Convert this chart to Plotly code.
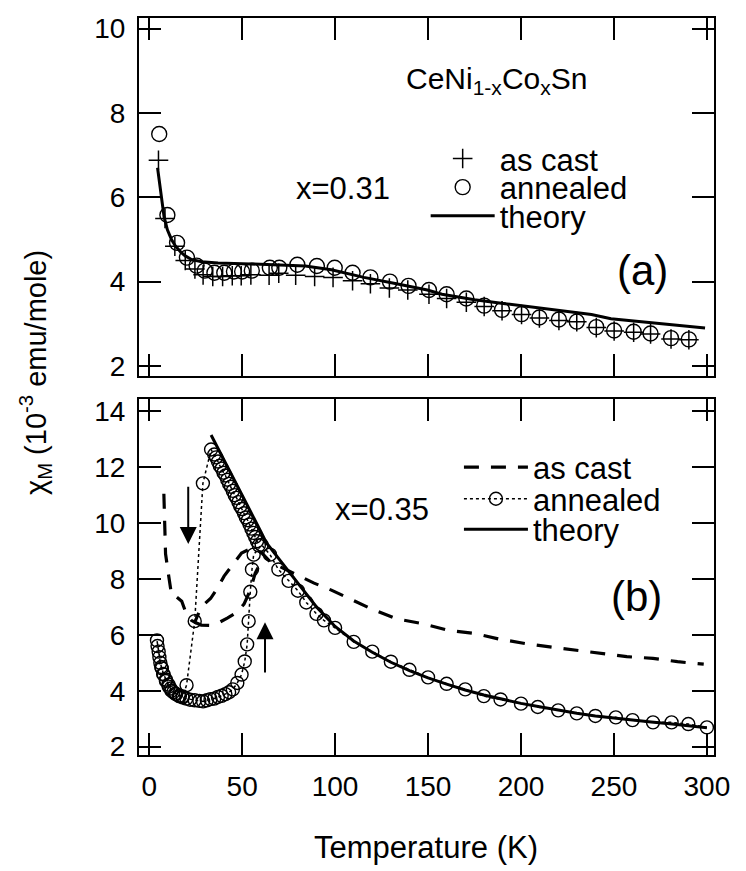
import plotly.graph_objects as go

# ---------------- Panel (a): x = 0.31 ----------------
a_cast_T = [5, 8.5, 13.8, 19.4, 24.6, 29, 34.2, 39.5, 44.7, 49.5, 54.7, 64.5, 69.7, 78.8, 89, 98.9,
            109.4, 119, 129.2, 139.1, 150.5, 160, 170.6, 180.2, 189.8, 200.3, 209.9, 220.4, 230,
            240.5, 250.1, 260.6, 269.7, 280.7, 290.3]
a_cast_v = [6.88, 5.5, 4.84, 4.5, 4.3, 4.16, 4.12, 4.12, 4.14, 4.14, 4.16, 4.15, 4.2, 4.15, 4.12, 4.1,
            4.02, 3.95, 3.85, 3.8, 3.7, 3.6, 3.51, 3.41, 3.31, 3.22, 3.14, 3.08, 3.05,
            2.91, 2.83, 2.8, 2.76, 2.64, 2.62]

a_ann_T = [5.4, 9.8, 15, 20.3, 25.5, 29.9, 35.1, 40.4, 45.6, 50, 55.2, 64.9, 70, 79.7, 90.2, 99.8,
           109.4, 119, 129.5, 139.5, 150.5, 160, 170.6, 180.2, 189.8, 200.3, 209.9, 220.4, 230,
           240.5, 250.1, 260.6, 269.7, 280.7, 290.3]
a_ann_v = [7.5, 5.58, 4.92, 4.57, 4.38, 4.26, 4.21, 4.21, 4.24, 4.24, 4.26, 4.33, 4.33, 4.4, 4.37, 4.33,
           4.21, 4.1, 4.0, 3.9, 3.8, 3.7, 3.6, 3.43, 3.33, 3.23, 3.15, 3.1, 3.05,
           2.92, 2.84, 2.81, 2.77, 2.66, 2.63]

a_th_T = [4.5, 6.5, 8, 9.8, 12, 14.2, 17, 19.4, 23, 28.2, 37, 54.4, 71.8, 84, 98, 115.5, 133,
          149.6, 157.5, 175, 192.5, 210, 227.4, 237.9, 248.4, 262.4, 279.8, 299]
a_th_v = [6.7, 6.05, 5.54, 5.23, 5.0, 4.84, 4.7, 4.61, 4.52, 4.47, 4.44, 4.42, 4.4, 4.37, 4.28, 4.1, 3.95,
          3.8, 3.7, 3.57, 3.47, 3.37, 3.28, 3.22, 3.12, 3.06, 2.98, 2.9]

# ---------------- Panel (b): x = 0.35 ----------------
b_cast_T = [7.9, 8.2, 8.5, 8.8, 10.3, 12.1, 14.8, 17.5, 20, 22.7, 24.5, 28, 33, 36.5, 40.3, 45, 49.7,
            53.5, 57, 61, 65, 70, 76.4, 83, 88.7, 98, 106.3, 113, 119.5, 132.8, 146.9, 161, 175,
            188.2, 202.3, 215.5, 229.6, 243.7, 256.9, 271, 284.2, 298.3]
b_cast_v = [11.05, 10.5, 9.9, 8.9, 8.2, 7.4, 7.35, 7.2, 6.75, 6.52, 6.45, 7.0, 7.3, 7.65, 8.1, 8.5, 8.93,
            9.05, 9.08, 8.9, 8.62, 8.45, 8.25, 8.05, 7.85, 7.6, 7.34, 7.15, 6.93, 6.58, 6.4, 6.16, 6.05,
            5.85, 5.69, 5.57, 5.46, 5.34, 5.22, 5.16, 5.04, 4.95]
b_cast2_T = [24.5, 28, 33, 37, 42, 47, 51, 54.4, 57, 60, 63]
b_cast2_v = [6.45, 6.35, 6.34, 6.42, 6.6, 6.8, 7.1, 7.6, 8.2, 8.6, 8.75]

b_ann_T = [300, 290, 281, 271, 260, 251, 240, 230, 220, 209, 200, 189, 180, 170, 160, 150, 140, 130,
           120, 110, 100, 94, 90, 84.5, 80, 75, 69.5, 65, 60.5, 56.2, 55.3, 54.4, 53.5, 52.7, 51.4,
           49.7, 47.4, 45, 43, 41, 39, 37, 35, 33, 31, 29, 27, 24.5, 22, 20, 18, 16.5, 14.5, 13,
           11.5, 10.4, 9, 7.8, 6.8, 6, 5.1, 4.2,
           4.5, 5.5, 6.5, 7.5, 9, 10.5, 12, 14, 16, 18, 20.1, 24.5, 28.9, 33.3,
           35, 36, 37, 38, 39, 40, 41, 42, 43, 44, 45, 46, 47, 48, 49, 50, 51, 52, 53, 54, 55, 56,
           57, 58, 59]
b_ann_v = [2.69, 2.81, 2.87, 2.87, 2.95, 3.05, 3.1, 3.19, 3.3, 3.42, 3.54, 3.69, 3.81, 4.05, 4.25,
           4.48, 4.75, 5.04, 5.4, 5.75, 6.25, 6.52, 6.75, 7.16, 7.58, 7.93, 8.34, 8.87, 9.22, 8.87,
           8.34, 7.54, 6.49, 5.66, 5.05, 4.58, 4.28, 4.05, 3.95, 3.88, 3.82, 3.78, 3.72, 3.7, 3.66,
           3.62, 3.64, 3.66, 3.68, 3.72, 3.76, 3.8, 3.88, 3.95, 4.08, 4.22, 4.4, 4.58, 4.8, 5.0,
           5.4, 5.8,
           5.6, 5.2, 4.85, 4.6, 4.35, 4.15, 4.0, 3.9, 3.82, 3.8, 4.2, 6.49, 11.42, 12.63,
           12.45, 12.35, 12.2, 12.05, 11.95, 11.8, 11.7, 11.55, 11.4, 11.3, 11.15, 11.0, 10.9,
           10.75, 10.6, 10.5, 10.35, 10.2, 10.1, 9.95, 9.8, 9.65, 9.5, 9.35, 9.2]

b_th_T = [33.3, 40, 50, 60, 63, 70, 80, 90, 100, 110, 120, 130, 140, 150, 160, 170, 180, 190, 200,
          210, 220, 230, 240, 250, 260, 270, 280, 290, 300]
b_th_v = [13.15, 12.3, 11.0, 9.7, 9.3, 8.7, 7.85, 7.0, 6.3, 5.78, 5.38, 5.02, 4.72, 4.46, 4.24,
          4.03, 3.85, 3.69, 3.55, 3.43, 3.31, 3.2, 3.1, 3.02, 2.95, 2.88, 2.82, 2.75, 2.68]

x_ticks = [0, 50, 100, 150, 200, 250, 300]
ya_ticks = [2, 4, 6, 8, 10]
yb_ticks = [2, 4, 6, 8, 10, 12, 14]

W, H = 746, 871
FONT = "Liberation Sans, Arial, Helvetica, sans-serif"
BLACK = "black"

fig = go.Figure()

# panel (a)
fig.add_trace(go.Scatter(x=a_cast_T, y=a_cast_v, mode="markers", name="as cast", legend="legend",
                         marker=dict(symbol="cross-thin-open", size=14, color=BLACK,
                                     line=dict(color=BLACK, width=1.5)),
                         xaxis="x", yaxis="y"))
fig.add_trace(go.Scatter(x=a_ann_T, y=a_ann_v, mode="markers", name="annealed", legend="legend2",
                         marker=dict(symbol="circle-open", size=15, color=BLACK, line=dict(color=BLACK, width=1.4)),
                         xaxis="x", yaxis="y"))
fig.add_trace(go.Scatter(x=a_th_T, y=a_th_v, mode="lines", name="theory", legend="legend3",
                         line=dict(color=BLACK, width=3), xaxis="x", yaxis="y"))

# panel (b)
fig.add_trace(go.Scatter(x=b_cast_T, y=b_cast_v, mode="lines", name="as cast", legend="legend4",
                         line=dict(color=BLACK, width=3.2, dash="15px,12px"), xaxis="x2", yaxis="y2"))
fig.add_trace(go.Scatter(x=b_cast2_T, y=b_cast2_v, mode="lines", showlegend=False,
                         line=dict(color=BLACK, width=3.2, dash="15px,12px"), xaxis="x2", yaxis="y2"))
fig.add_trace(go.Scatter(x=b_ann_T, y=b_ann_v, mode="lines+markers", name="annealed", legend="legend5",
                         line=dict(color=BLACK, width=1.5, dash="dot"),
                         marker=dict(symbol="circle-open", size=13, color=BLACK, line=dict(color=BLACK, width=1.4)),
                         xaxis="x2", yaxis="y2"))
fig.add_trace(go.Scatter(x=b_th_T, y=b_th_v, mode="lines", name="theory", legend="legend6",
                         line=dict(color=BLACK, width=3), xaxis="x2", yaxis="y2"))

xdom = [142 / W, 730 / W]
axis_common = dict(showline=True, linewidth=2, linecolor=BLACK, mirror="ticks", ticks="inside",
                   ticklen=22, tickwidth=1.5, tickcolor=BLACK, showgrid=False, zeroline=False,
                   tickfont=dict(family=FONT, size=28, color=BLACK))

IW = 64
leg_common = dict(bgcolor="rgba(0,0,0,0)", font=dict(family=FONT, size=31, color=BLACK),
                  xanchor="left", yanchor="middle", itemwidth=IW, borderwidth=0)


def legpos(text_left_px, py_center):
    return dict(x=(text_left_px - IW) / W, y=1 - py_center / H, **leg_common)


fig.update_layout(
    width=W, height=H,
    margin=dict(l=0, r=0, t=0, b=0),
    paper_bgcolor="white", plot_bgcolor="white",
    font=dict(family=FONT, color=BLACK),
    xaxis=dict(domain=xdom, range=[-5.5, 304], anchor="y", tickvals=x_ticks, showticklabels=False,
               **axis_common),
    yaxis=dict(domain=[1 - 377 / H, 1 - 14 / H], range=[1.766, 10.257], anchor="x", tickvals=ya_ticks,
               ticklabelstandoff=6, **axis_common),
    xaxis2=dict(domain=xdom, range=[-5.5, 304], anchor="y2", tickvals=x_ticks, ticklabelstandoff=6,
                **axis_common),
    yaxis2=dict(domain=[1 - 761 / H, 1 - 401 / H], range=[1.72, 14.42], anchor="x2", tickvals=yb_ticks,
                ticklabelstandoff=6, **axis_common),
    legend=legpos(499, 157),
    legend2=legpos(499, 186),
    legend3=legpos(499, 215),
    legend4=legpos(533, 470),
    legend5=legpos(533, 502),
    legend6=legpos(533, 533),
)

ann = []
ann.append(dict(text="CeNi<sub>1-x</sub>Co<sub>x</sub>Sn", x=186.6, y=8.76, xref="x", yref="y",
                xanchor="center", yanchor="middle",
                showarrow=False, font=dict(family=FONT, size=30, color=BLACK)))
ann.append(dict(text="x=0.31", x=104.5, y=6.21, xref="x", yref="y", showarrow=False,
                xanchor="center", yanchor="middle",
                font=dict(family=FONT, size=31, color=BLACK)))
ann.append(dict(text="(a)", x=265.5, y=4.27, xref="x", yref="y", showarrow=False,
                xanchor="center", yanchor="middle",
                font=dict(family=FONT, size=42, color=BLACK)))
ann.append(dict(text="x=0.35", x=125, y=10.47, xref="x2", yref="y2", showarrow=False,
                xanchor="center", yanchor="middle",
                font=dict(family=FONT, size=31, color=BLACK)))
ann.append(dict(text="(b)", x=262, y=7.36, xref="x2", yref="y2", showarrow=False,
                xanchor="center", yanchor="middle",
                font=dict(family=FONT, size=42, color=BLACK)))
# arrows
ann.append(dict(text="", x=21, y=9.25, ax=21, ay=11.35, xref="x2", yref="y2", axref="x2", ayref="y2",
                showarrow=True, arrowhead=2, arrowsize=1.7, arrowwidth=2, arrowcolor=BLACK))
ann.append(dict(text="", x=62.3, y=6.45, ax=62.3, ay=4.6, xref="x2", yref="y2", axref="x2", ayref="y2",
                showarrow=True, arrowhead=2, arrowsize=1.7, arrowwidth=2, arrowcolor=BLACK))
# axis titles
ann.append(dict(text="χ<sub>M</sub> (10<sup>-3</sup> emu/mole)", x=36 / W, y=1 - 374 / H,
                xref="paper", yref="paper", textangle=-90, showarrow=False,
                xanchor="center", yanchor="middle",
                font=dict(family=FONT, size=29, color=BLACK)))
ann.append(dict(text="Temperature (K)", x=435 / W, y=1 - 855 / H, xref="paper", yref="paper",
                xanchor="center", yanchor="middle",
                showarrow=False, font=dict(family=FONT, size=31, color=BLACK)))
fig.update_layout(annotations=ann)

fig.write_html("out.html")
